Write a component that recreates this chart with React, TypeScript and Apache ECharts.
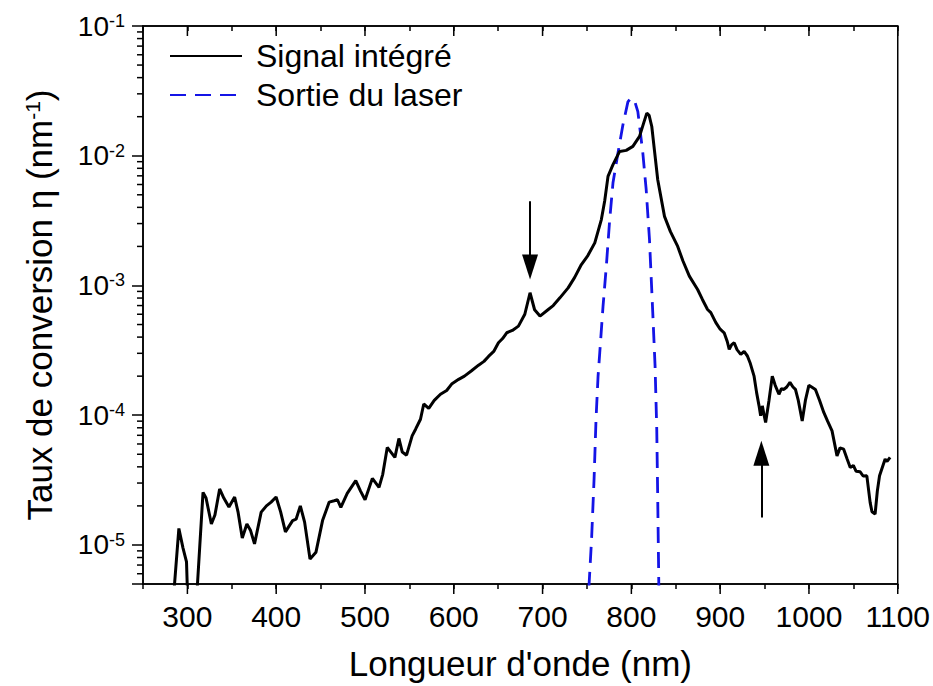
import { useEffect, useRef } from 'react';
import * as echarts from 'echarts';

const FONT = '"Liberation Sans", Arial, sans-serif';

const signalWavelength = [
  283, 290.4, 295, 299, 300.5, 305, 310.5, 317.6, 321, 327.0, 331, 336.3, 341, 346.8, 353.2, 357, 361.8,
  367.0, 371, 375.6, 383.1, 389, 394.3, 399.9, 405, 410.4, 418.5, 422.4, 427.2, 432, 438.1, 444.8, 452.2,
  459.7, 465.3, 469.0, 472.8, 480, 489.6, 495, 500.1, 508.3, 515.8, 520, 525.1, 533.7, 538.2, 542, 546.8,
  553.1, 557, 562.5, 566.2, 571.8, 578, 585.0, 592, 598, 605.5, 612, 620, 627.9, 634, 639.1, 645, 650.3,
  655, 659.6, 666, 672.8, 680, 685.9, 691, 697.1, 706.4, 712, 719.5, 728.8, 736, 743.7, 751, 758.8, 766.2,
  770, 773.7, 779.3, 786.8, 794.2, 801.7, 809.2, 814, 817.4, 820, 823.0, 826, 829.7, 837.3, 844, 852.2,
  858, 865.3, 874.6, 880, 885.8, 889.5, 895, 900, 904.5, 908, 910.2, 913, 915.8, 919, 923.2, 927, 930.7,
  934, 938.2, 941, 943.8, 945.6, 947.5, 949.5, 951.2, 955, 958.7, 962, 966.2, 969, 971.8, 975, 978.6, 982,
  984.8, 988, 992.4, 996, 999.9, 1003, 1007.3, 1012, 1016.7, 1021, 1026.0, 1031.6, 1035, 1039.1, 1043,
  1046.5, 1050, 1053, 1057.7, 1061, 1065.2, 1068.9, 1071, 1074.5, 1077, 1079.5, 1085.8, 1088, 1091.4,
];
const signalValue = [
  3e-6, 1.34e-5, 9.5e-6, 7.4e-6, 3.5e-6, 2e-6, 4e-6, 2.54e-5, 2.3e-5, 1.45e-5, 1.7e-5, 2.7e-5, 2.3e-5, 1.96e-5, 2.34e-5, 1.8e-5, 1.13e-5,
  1.45e-5, 1.3e-5, 1.02e-5, 1.79e-5, 2.0e-5, 2.14e-5, 2.34e-5, 1.8e-5, 1.26e-5, 1.54e-5, 1.58e-5, 2.0e-5, 1.5e-5, 7.8e-6, 8.8e-6, 1.54e-5,
  2.14e-5, 2.19e-5, 2.23e-5, 1.95e-5, 2.5e-5, 3.13e-5, 2.6e-5, 2.23e-5, 3.26e-5, 2.78e-5, 3.5e-5, 5.65e-5, 4.73e-5, 6.62e-5, 5.2e-5, 4.92e-5,
  6.93e-5, 7.8e-5, 9.31e-5, 1.22e-4, 1.13e-4, 1.3e-4, 1.45e-4, 1.55e-4, 1.75e-4, 1.89e-4, 2.0e-4, 2.2e-4, 2.43e-4, 2.6e-4, 2.84e-4, 3.1e-4, 3.62e-4,
  3.9e-4, 4.32e-4, 4.5e-4, 4.86e-4, 6.0e-4, 8.79e-4, 6.5e-4, 5.81e-4, 6.53e-4, 7.0e-4, 8.03e-4, 9.59e-4, 1.15e-3, 1.45e-3, 1.7e-3, 2.13e-3, 3.22e-3,
  4.5e-3, 6.93e-3, 8.53e-3, 1.08e-2, 1.1e-2, 1.18e-2, 1.41e-2, 1.8e-2, 2.13e-2, 2.05e-2, 1.68e-2, 1.1e-2, 6.53e-3, 3.41e-3, 2.6e-3, 2.0e-3,
  1.55e-3, 1.18e-3, 9.31e-4, 7.8e-4, 6.53e-4, 6.17e-4, 5.2e-4, 4.6e-4, 4.32e-4, 3.7e-4, 3.22e-4, 3.5e-4, 3.62e-4, 3.2e-4, 2.94e-4, 3.1e-4, 2.86e-4,
  2.5e-4, 2.0e-4, 1.5e-4, 1.18e-4, 9.9e-5, 1.18e-4, 1.0e-4, 8.79e-5, 1.3e-4, 2.0e-4, 1.7e-4, 1.45e-4, 1.6e-4, 1.58e-4, 1.65e-4, 1.79e-4, 1.65e-4,
  1.58e-4, 1.3e-4, 9.03e-5, 1.3e-4, 1.7e-4, 1.65e-4, 1.58e-4, 1.3e-4, 1.05e-4, 9.0e-5, 7.57e-5, 4.86e-5, 5.6e-5, 5.47e-5, 4.6e-5,
  3.96e-5, 4.1e-5, 3.7e-5, 3.66e-5, 3.4e-5, 3.41e-5, 2.13e-5, 1.8e-5, 1.73e-5, 2.6e-5, 3.41e-5, 4.59e-5, 4.4e-5, 4.73e-5,
];

const laserWavelength = [
  750, 752.4, 755.2, 758.0, 760.2, 762.5, 764.4, 768.1, 771.8, 775.6, 779.3, 784.9, 790.5, 796.1, 799.5,
  804.0, 807.3, 812.9, 816.7, 820.4, 824.1, 826.7, 828.6, 829.7, 830.9, 832,
];
const laserValue = [
  3e-6, 5e-6, 1.11e-5, 3.22e-5, 9.3e-5, 2.0e-4, 3.03e-4, 6.93e-4, 1.41e-3, 3.22e-3, 6.19e-3, 1.05e-2, 1.73e-2, 2.6e-2, 2.79e-2,
  2.6e-2, 2.19e-2, 1.05e-2, 5.47e-3, 2.26e-3, 6.17e-4, 2.39e-4, 7.8e-5, 2.26e-5, 5e-6, 3e-6,
];

const xMin = 250;
const xMax = 1100;
const yMin = 5e-6;
const yMax = 0.1;
const xMajorTicks = [300, 400, 500, 600, 700, 800, 900, 1000, 1100];
const yMinorTicks = [
  6e-6, 7e-6, 8e-6, 9e-6,
  2e-5, 3e-5, 4e-5, 5e-5, 6e-5, 7e-5, 8e-5, 9e-5,
  2e-4, 3e-4, 4e-4, 5e-4, 6e-4, 7e-4, 8e-4, 9e-4,
  2e-3, 3e-3, 4e-3, 5e-3, 6e-3, 7e-3, 8e-3, 9e-3,
  2e-2, 3e-2, 4e-2, 5e-2, 6e-2, 7e-2, 8e-2, 9e-2,
];
const arrowDown = { x: 685.9, from: 4.45e-3, to: 1.39e-3 };
const arrowUp = { x: 946.4, from: 1.63e-5, to: 5.1e-5 };

const seriesNames = ['Signal intégré', 'Sortie du laser'];

function tickSeries(data: number[][], dx: number, dy: number) {
  return {
    type: 'custom',
    silent: true,
    clip: false,
    z: 10,
    data,
    encode: { x: 0, y: 1 },
    renderItem: (_params: any, api: any) => {
      const p = api.coord([api.value(0), api.value(1)]);
      return {
        type: 'line',
        shape: { x1: p[0], y1: p[1], x2: p[0] + dx, y2: p[1] + dy },
        style: { stroke: '#000', lineWidth: 1.5, fill: null },
      };
    },
  };
}

export default function App() {
  const ref = useRef<HTMLDivElement>(null);
  useEffect(() => {
    if (!ref.current) return;
    const chart = echarts.init(ref.current, null, { renderer: 'svg' });
    const signal = signalWavelength.map((x, i) => [x, signalValue[i]]);
    const laser = laserWavelength.map((x, i) => [x, laserValue[i]]);
    const supLabel = (v: number) => {
      const e = Math.log10(v);
      const r = Math.round(e);
      if (Math.abs(e - r) > 1e-6) return '';
      return '10{s|' + r + '}';
    };
    chart.setOption({
      animation: false,
      backgroundColor: '#fff',
      grid: { left: 143, top: 26, width: 758, height: 559, show: true, borderColor: '#000', borderWidth: 1.5, backgroundColor: 'transparent' },
      legend: {
        data: seriesNames,
        orient: 'vertical',
        left: 169,
        top: 40,
        padding: 0,
        itemWidth: 72,
        itemHeight: 20,
        itemGap: 7,
        itemStyle: { opacity: 0 },
        textStyle: { fontSize: 32, color: '#000', fontFamily: FONT, padding: [0, 0, 0, 9] },
      },
      xAxis: [
        {
          type: 'value', min: xMin, max: xMax, interval: 50, position: 'bottom',
          name: "Longueur d'onde (nm)", nameLocation: 'middle', nameGap: 62,
          nameTextStyle: { fontSize: 35, color: '#000', fontFamily: FONT },
          axisLine: { show: true, lineStyle: { color: '#000', width: 1.5 } },
          axisTick: { show: true, inside: false, length: 5, lineStyle: { color: '#000', width: 1.5 } },
          axisLabel: { fontSize: 30, color: '#000', fontFamily: FONT, margin: 17, formatter: (v: number) => (v % 100 === 0 ? String(v) : '') },
          splitLine: { show: false },
        },
        {
          type: 'value', min: xMin, max: xMax, interval: 50, position: 'top',
          axisLine: { show: true, lineStyle: { color: '#000', width: 1.5 } },
          axisTick: { show: true, inside: true, length: 5, lineStyle: { color: '#000', width: 1.5 } },
          axisLabel: { show: false },
          splitLine: { show: false },
        },
      ],
      yAxis: [
        {
          type: 'log', logBase: 10, min: yMin, max: yMax, position: 'left',
          name: 'Taux de conversion η (nm{s|-1})', nameLocation: 'middle', nameGap: 86,
          nameTextStyle: {
            fontSize: 35, color: '#000', fontFamily: FONT,
            rich: { s: { fontSize: 21, verticalAlign: 'top', color: '#000', fontFamily: FONT } },
          },
          axisLine: { show: true, lineStyle: { color: '#000', width: 1.5 } },
          axisTick: { show: true, inside: false, length: 11, lineStyle: { color: '#000', width: 1.5 } },
          axisLabel: {
            fontSize: 28, color: '#000', fontFamily: FONT, margin: 18, formatter: supLabel,
            rich: { s: { fontSize: 18, verticalAlign: 'top', color: '#000', fontFamily: FONT } },
          },
          splitLine: { show: false },
          minorTick: { show: false },
        },
      ],
      series: [
        {
          name: seriesNames[0], type: 'line', data: signal, symbol: 'none', showSymbol: false,
          lineStyle: { color: '#000', width: 3 }, itemStyle: { color: '#000' }, z: 3,
          markLine: {
            silent: true,
            symbol: ['none', 'triangle'],
            lineStyle: { color: '#000', width: 2, type: 'solid' },
            itemStyle: { color: '#000' },
            label: { show: false },
            emphasis: { disabled: true },
            data: [
              [{ coord: [arrowDown.x, arrowDown.from] }, { coord: [arrowDown.x, arrowDown.to], symbolSize: [16, 25] }],
              [{ coord: [arrowUp.x, arrowUp.from] }, { coord: [arrowUp.x, arrowUp.to], symbolSize: [16, 25] }],
            ],
          },
        },
        {
          name: seriesNames[1], type: 'line', data: laser, symbol: 'none', showSymbol: false,
          lineStyle: { color: '#1414e6', width: 2.8, type: [16, 9] }, itemStyle: { color: '#1414e6' }, z: 2,
        },
        tickSeries(yMinorTicks.map((v) => [xMin, v]), -6, 0),
        tickSeries(xMajorTicks.map((v) => [v, yMin]), 0, 10),
        tickSeries(xMajorTicks.map((v) => [v, yMax]), 0, 10),
      ],
    });
    return () => chart.dispose();
  }, []);
  return <div ref={ref} style={{ position: 'absolute', left: 0, top: 0, width: 933, height: 686 }} />;
}
